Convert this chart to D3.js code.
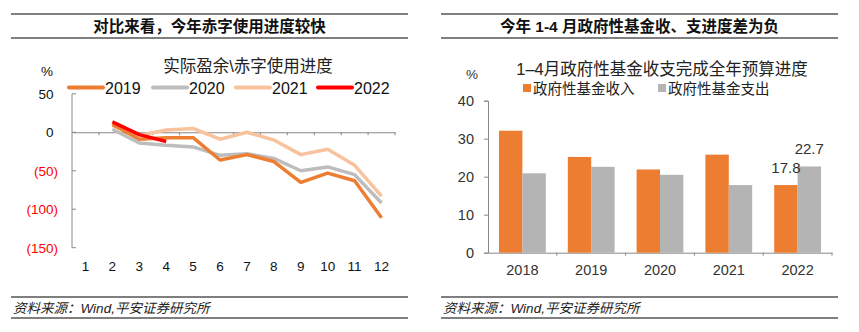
<!DOCTYPE html>
<html>
<head>
<meta charset="utf-8">
<script src="https://cdn.jsdelivr.net/npm/d3@7"></script>
<style>
  body { margin: 0; background: #fff; }
  svg { display: block; font-family: "Liberation Sans", "Noto Sans CJK SC", sans-serif; }
</style>
</head>
<body>
<svg id="chart" width="859" height="332"></svg>
<script>
// left panel data
var months = ["1", "2", "3", "4", "5", "6", "7", "8", "9", "10", "11", "12"];
var years = ["2019", "2020", "2021", "2022"];
var s2019 = [null, 10, -9, -7, -7, -36, -29, -38, -65, -53, -63, -111];
var s2020 = [null, 4, -14, -17, -19, -30, -28, -34, -50, -45, -55, -92];
var s2021 = [null, 9, -4, 3, 5, -9, 0, -10, -29, -22, -43, -83];
var s2022 = [null, 13.5, -3, -12, null, null, null, null, null, null, null, null];
var leftTicks = [50, 0, -50, -100, -150];

// right panel data
var barYears = ["2018", "2019", "2020", "2021", "2022"];
var revenue = [32.1, 25.2, 21.9, 25.8, 17.8];
var spending = [20.9, 22.6, 20.5, 17.8, 22.7];
var barSeries = ["政府性基金收入", "政府性基金支出"];
var rightTicks = [0, 10, 20, 30, 40];

var svg = d3.select("#chart");

// header + footer rules
function frame(x0, x1, title) {
  [14, 38, 297, 318].forEach(function(y) {
    svg.append("line").attr("x1", x0).attr("x2", x1).attr("y1", y).attr("y2", y)
      .attr("stroke", "#555").attr("stroke-width", 1.5);
  });
  svg.append("text").attr("x", (x0 + x1) / 2).attr("y", 31.5)
    .attr("text-anchor", "middle").style("font-size", "15.5px").style("font-weight", "bold")
    .attr("fill", "#111").text(title);
  svg.append("text").attr("x", x0 + 2).attr("y", 312.5)
    .style("font-size", "13.5px").style("font-style", "italic").attr("fill", "#222")
    .text("资料来源：Wind,平安证券研究所");
}
frame(11, 408, "对比来看，今年赤字使用进度较快");
frame(441, 838, "今年 1-4 月政府性基金收、支进度差为负");

// ---------- left: line chart ----------
var x = d3.scaleBand().domain(months).range([72, 395]);
var y = d3.scaleLinear().domain([-150, 50]).range([247.7, 93.8]);

var left = svg.append("g");

left.append("text").attr("x", 248).attr("y", 72).attr("text-anchor", "middle")
  .style("font-size", "16.5px").attr("fill", "#222").text("实际盈余\\赤字使用进度");
left.append("text").attr("x", 47).attr("y", 76).attr("text-anchor", "middle")
  .style("font-size", "13.5px").attr("fill", "#111").text("%");

// y axis
left.append("line").attr("x1", 72).attr("x2", 72).attr("y1", y(50)).attr("y2", y(-150))
  .attr("stroke", "#888");
leftTicks.forEach(function(t) {
  left.append("line").attr("x1", 72).attr("x2", 76).attr("y1", y(t)).attr("y2", y(t))
    .attr("stroke", "#888");
  left.append("text").attr("x", t < 0 ? 58 : 53.5).attr("y", y(t) + 5)
    .attr("text-anchor", "end").style("font-size", "13.5px")
    .attr("fill", t < 0 ? "#ff0000" : "#111")
    .text(t < 0 ? "(" + (-t) + ")" : t);
});

// x axis at zero, labels at bottom
var xAxis = d3.axisBottom(x).tickSize(0).tickFormat("");
left.append("g").attr("transform", "translate(0," + y(0) + ")").call(xAxis)
  .call(function(g) { g.select(".domain").attr("stroke", "#888"); });
months.forEach(function(m, i) {
  var bx = x(m) + x.bandwidth();
  left.append("line").attr("x1", bx).attr("x2", bx).attr("y1", y(0)).attr("y2", y(0) + 3)
    .attr("stroke", "#888");
  left.append("text").attr("x", x(m) + x.bandwidth() / 2).attr("y", 271)
    .attr("text-anchor", "middle").style("font-size", "13.5px").attr("fill", "#111").text(m);
});

var lineColors = ["#ED7D31", "#BDBDBD", "#F8C29D", "#FF0000"];
var lineData = [s2019, s2020, s2021, s2022];
var line = d3.line()
  .defined(function(d) { return d != null; })
  .x(function(d, i) { return x(months[i]) + x.bandwidth() / 2; })
  .y(function(d) { return y(d); });

[2, 1, 0, 3].forEach(function(k) {
  left.append("path").datum(lineData[k]).attr("d", line)
    .attr("fill", "none").attr("stroke", lineColors[k]).attr("stroke-width", 3.5)
    .attr("stroke-linejoin", "round");
});

// legend
var legX = [69, 153, 236, 318];
years.forEach(function(yr, i) {
  left.append("line").attr("x1", legX[i]).attr("x2", legX[i] + 34)
    .attr("y1", 87.5).attr("y2", 87.5)
    .attr("stroke", lineColors[i]).attr("stroke-width", 4).attr("stroke-linecap", "round");
  left.append("text").attr("x", legX[i] + 36).attr("y", 93.5)
    .style("font-size", "16px").attr("fill", "#111").text(yr);
});

// ---------- right: grouped bars ----------
var x0 = d3.scaleBand().domain(barYears).range([488, 832]).paddingInner(0.32).paddingOuter(0.16);
var x1 = d3.scaleBand().domain([0, 1]).range([0, x0.bandwidth()]);
var y2 = d3.scaleLinear().domain([0, 40]).range([252.7, 100.7]);
var barColors = ["#ED7D31", "#B4B4B4"];

var right = svg.append("g");

right.append("text").attr("x", 662).attr("y", 75).attr("text-anchor", "middle")
  .style("font-size", "16.5px").attr("fill", "#222").text("1–4月政府性基金收支完成全年预算进度");
right.append("text").attr("x", 472).attr("y", 79).attr("text-anchor", "middle")
  .style("font-size", "13.5px").attr("fill", "#333").text("%");

var legR = [523, 658];
barSeries.forEach(function(s, i) {
  right.append("rect").attr("x", legR[i]).attr("y", 84).attr("width", 8).attr("height", 8)
    .attr("fill", barColors[i]);
  right.append("text").attr("x", legR[i] + 10).attr("y", 93.5)
    .style("font-size", "14.5px").attr("fill", "#222").text(s);
});

var yAxisR = d3.axisLeft(y2).tickValues(rightTicks).tickSize(4).tickPadding(10);
right.append("g").attr("transform", "translate(488,0)").call(yAxisR)
  .call(function(g) {
    g.select(".domain").attr("stroke", "#888");
    g.selectAll(".tick line").attr("stroke", "#888");
    g.selectAll(".tick text").style("font-size", "14.5px").attr("fill", "#333")
      .attr("font-family", "Liberation Sans");
  });

var xAxisR = d3.axisBottom(x0).tickSize(0).tickPadding(12);
right.append("g").attr("transform", "translate(0," + y2(0) + ")").call(xAxisR)
  .call(function(g) {
    g.select(".domain").attr("stroke", "#888");
    g.selectAll(".tick text").style("font-size", "14.5px").attr("fill", "#333")
      .attr("font-family", "Liberation Sans");
  });
barYears.forEach(function(yr) {
  var bx = x0(yr) + x0.bandwidth() + x0.step() * x0.paddingInner() / 2;
  right.append("line").attr("x1", bx).attr("x2", bx).attr("y1", y2(0)).attr("y2", y2(0) + 3)
    .attr("stroke", "#888");
});

var groups = right.selectAll(".grp").data(barYears).enter().append("g")
  .attr("transform", function(d) { return "translate(" + x0(d) + ",0)"; });

groups.selectAll("rect")
  .data(function(d, i) { return [revenue[i], spending[i]]; })
  .enter().append("rect")
  .attr("x", function(d, j) { return x1(j); })
  .attr("y", function(d) { return y2(d); })
  .attr("width", x1.bandwidth())
  .attr("height", function(d) { return y2(0) - y2(d); })
  .attr("fill", function(d, j) { return barColors[j]; });

// data labels for 2022
var last = barYears.length - 1;
[revenue[last], spending[last]].forEach(function(v, j) {
  right.append("text")
    .attr("x", x0(barYears[last]) + x1(j) + x1.bandwidth() / 2)
    .attr("y", y2(v) - 12)
    .attr("text-anchor", "middle").style("font-size", "15px").attr("fill", "#333")
    .text(v.toFixed(1));
});
</script>
</body>
</html>
